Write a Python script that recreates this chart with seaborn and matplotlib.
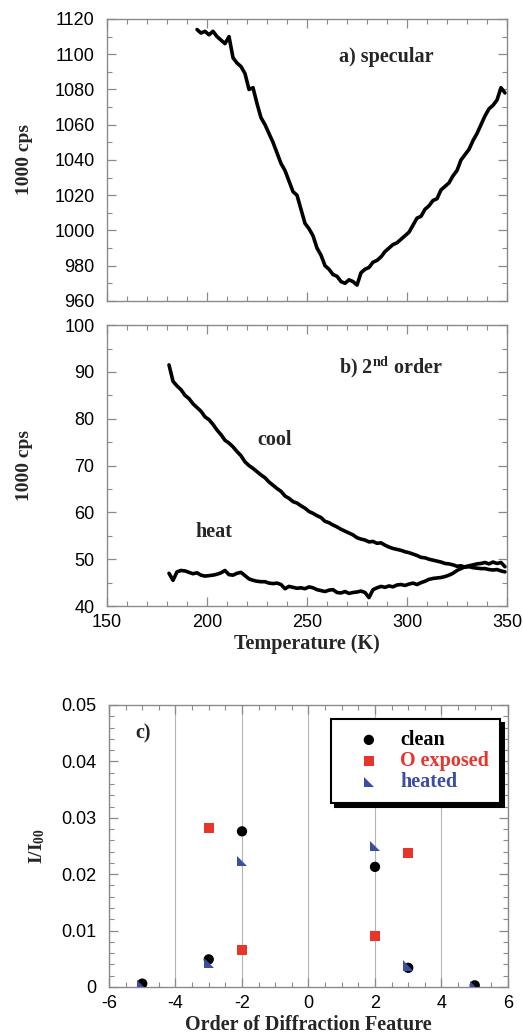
import matplotlib
matplotlib.use("Agg")
import matplotlib.pyplot as plt
import seaborn as sns
from matplotlib.ticker import MultipleLocator

# ---------------- data ----------------
temp_a = [195, 197, 199, 201, 203, 205, 207, 209, 211, 213, 215, 217, 219, 221, 223,
          225, 227, 229, 231, 233, 235, 237, 239, 241, 243, 245, 247, 249, 251, 253,
          255, 257, 259, 261, 263, 265, 267, 269, 271, 273, 275, 277, 279, 281, 283,
          285, 287, 289, 291, 293, 295, 297, 299, 301, 303, 305, 307, 309, 311, 313,
          315, 317, 319, 321, 323, 325, 327, 329, 331, 333, 335, 337, 339, 341, 343,
          345, 347, 349]
specular = [1114, 1112, 1113, 1111, 1113, 1110, 1108, 1106, 1110, 1098, 1095, 1093, 1089,
            1080, 1081, 1072, 1064, 1060, 1055, 1050, 1044, 1038, 1034, 1028, 1022, 1020,
            1012, 1004, 1001, 997, 990, 986, 980, 978, 975, 974, 971, 970, 972, 971, 969,
            976, 978, 979, 982, 983, 985, 988, 990, 992, 993, 995, 997, 999, 1003, 1007,
            1008, 1012, 1014, 1017, 1018, 1023, 1025, 1027, 1031, 1034, 1040, 1043, 1046,
            1051, 1055, 1060, 1065, 1069, 1071, 1074, 1081, 1078]

temp_b = [181, 183, 185, 187, 189, 191, 193, 195, 197, 199, 201, 203, 205, 207, 209,
          211, 213, 215, 217, 219, 221, 223, 225, 227, 229, 231, 233, 235, 237, 239,
          241, 243, 245, 247, 249, 251, 253, 255, 257, 259, 261, 263, 265, 267, 269,
          271, 273, 275, 277, 279, 281, 283, 285, 287, 289, 291, 293, 295, 297, 299,
          301, 303, 305, 307, 309, 311, 313, 315, 317, 319, 321, 323, 325, 327, 329,
          331, 333, 335, 337, 339, 341, 343, 345, 347, 349]
cool = [91.5, 88.0, 87.0, 86.2, 85.0, 84.3, 83.2, 82.4, 81.6, 80.4, 79.8, 78.8, 77.6, 76.6,
        75.4, 74.8, 74.0, 73.0, 72.1, 70.8, 70.0, 69.4, 68.7, 68.0, 67.4, 66.5, 65.8, 65.1,
        64.5, 63.5, 63.0, 62.3, 62.0, 61.4, 60.9, 60.2, 59.8, 59.3, 58.9, 58.1, 57.8, 57.3,
        56.9, 56.4, 56.0, 55.6, 55.2, 54.6, 54.3, 54.1, 53.7, 53.8, 53.4, 53.5, 53.0, 52.6,
        52.3, 52.1, 51.9, 51.6, 51.4, 51.1, 50.8, 50.4, 50.3, 50.0, 49.8, 49.6, 49.4, 49.1,
        49.0, 48.8, 48.5, 48.6, 48.3, 48.4, 48.2, 48.1, 48.0, 48.0, 47.8, 47.7, 47.8, 47.5,
        47.3]
heat = [47.0, 45.5, 47.3, 47.6, 47.5, 47.2, 46.9, 47.1, 46.6, 46.4, 46.5, 46.6, 46.8, 47.1,
        47.6, 46.7, 46.6, 47.0, 47.2, 46.5, 45.8, 45.5, 45.3, 45.2, 45.2, 44.9, 44.8, 44.9,
        44.6, 43.7, 44.2, 44.0, 43.8, 43.9, 43.7, 44.1, 43.9, 43.5, 43.3, 43.1, 43.4, 43.5,
        42.9, 42.8, 43.1, 42.7, 42.9, 43.0, 43.2, 42.9, 41.8, 43.5, 43.9, 44.2, 44.0, 44.3,
        44.1, 44.5, 44.6, 44.4, 44.7, 44.9, 44.6, 45.0, 45.3, 45.7, 45.9, 46.0, 46.1, 46.3,
        46.6, 47.0, 47.6, 48.0, 48.4, 48.6, 48.8, 49.0, 49.1, 49.3, 49.0, 49.4, 49.1, 49.3,
        48.4]

order_clean = [-5, -3, -2, 2, 3, 5]
clean = [0.0006, 0.0049, 0.0276, 0.0213, 0.0034, 0.0003]
order_oexp = [-3, -2, 2, 3]
o_exposed = [0.0282, 0.0066, 0.0091, 0.0237]
order_heated = [-5, -3, -2, 2, 3, 5]
heated = [0.0004, 0.0043, 0.0224, 0.0250, 0.0038, 0.0001]

legend_labels = ["clean", "O exposed", "heated"]

# ---------------- style ----------------
sns.set_style("ticks")
plt.rcParams["font.family"] = ["Liberation Sans", "DejaVu Sans"]
plt.rcParams["axes.unicode_minus"] = False
plt.rcParams["mathtext.fontset"] = "custom"
plt.rcParams["mathtext.rm"] = "Liberation Serif:bold"
plt.rcParams["mathtext.it"] = "Liberation Serif:bold"
plt.rcParams["mathtext.bf"] = "Liberation Serif:bold"

SERIF = ["Liberation Serif", "DejaVu Serif"]
RED = "#e8352b"
BLUE = "#3a4ea3"
SPINE = "#8a8a8a"

fig = plt.figure(figsize=(5.23, 10.36), dpi=100)
ax_a = fig.add_axes([0.2046, 0.7095, 0.7648, 0.2722])
ax_b = fig.add_axes([0.2046, 0.4150, 0.7648, 0.2712])
ax_c = fig.add_axes([0.2084, 0.0473, 0.7629, 0.2722])


def style_axes(ax):
    for s in ax.spines.values():
        s.set_color(SPINE)
        s.set_linewidth(1.0)
    ax.tick_params(which="both", direction="in", top=True, right=True,
                   color=SPINE, labelsize=13, labelcolor="black")
    ax.tick_params(which="major", length=6.5, width=0.9)
    ax.tick_params(which="minor", length=3.5, width=0.8)
    ax.tick_params(axis="y", which="both", pad=9)
    ax.tick_params(axis="x", which="both", pad=5.5)


# ---- panel a ----
sns.lineplot(x=temp_a, y=specular, ax=ax_a, color="black", lw=2.6,
             estimator=None, sort=False)
ax_a.set_xlim(150, 350)
ax_a.set_ylim(960, 1120)
ax_a.xaxis.set_major_locator(MultipleLocator(50))
ax_a.xaxis.set_minor_locator(MultipleLocator(10))
ax_a.yaxis.set_major_locator(MultipleLocator(20))
ax_a.yaxis.set_minor_locator(MultipleLocator(10))
ax_a.set_xticklabels([])
ax_a.set_xlabel("")
style_axes(ax_a)
ax_a.set_ylabel("1000 cps", family=SERIF, fontweight="bold", fontsize=14)
ax_a.yaxis.set_label_coords(-0.185, 0.5)
ax_a.text(266, 1098.3, "a) specular", family=SERIF, fontweight="bold",
          fontsize=14.5, va="center", ha="left")

# ---- panel b ----
sns.lineplot(x=temp_b, y=cool, ax=ax_b, color="black", lw=2.6,
             estimator=None, sort=False)
sns.lineplot(x=temp_b, y=heat, ax=ax_b, color="black", lw=2.6,
             estimator=None, sort=False)
ax_b.set_xlim(150, 350)
ax_b.set_ylim(40, 100)
ax_b.xaxis.set_major_locator(MultipleLocator(50))
ax_b.xaxis.set_minor_locator(MultipleLocator(10))
ax_b.yaxis.set_major_locator(MultipleLocator(10))
ax_b.yaxis.set_minor_locator(MultipleLocator(5))
style_axes(ax_b)
ax_b.set_ylabel("1000 cps", family=SERIF, fontweight="bold", fontsize=14)
ax_b.yaxis.set_label_coords(-0.185, 0.5)
ax_b.set_xlabel("Temperature (K)", family=SERIF, fontweight="bold", fontsize=14.5)
ax_b.xaxis.set_label_coords(0.5, -0.098)
ax_b.text(266, 91.1, r"b) 2$^{\mathrm{nd}}$ order", family=SERIF, fontweight="bold",
          fontsize=14.5, va="center", ha="left")
ax_b.text(225, 75.4, "cool", family=SERIF, fontweight="bold", fontsize=14.5,
          va="center", ha="left")
ax_b.text(194, 55.9, "heat", family=SERIF, fontweight="bold", fontsize=14.5,
          va="center", ha="left")

# ---- panel c ----
tri = [(-1, 1), (-1, -1), (1, -1)]
sns.scatterplot(x=order_clean, y=clean, ax=ax_c, color="black", marker="o", s=55,
                edgecolor="none", label=legend_labels[0], zorder=3)
sns.scatterplot(x=order_oexp, y=o_exposed, ax=ax_c, color=RED, marker="s", s=55,
                edgecolor="none", label=legend_labels[1], zorder=3)
sns.scatterplot(x=order_heated, y=heated, ax=ax_c, color=BLUE, marker=tri, s=55,
                edgecolor="none", label=legend_labels[2], zorder=4)
ax_c.set_xlim(-6, 6)
ax_c.set_ylim(0, 0.05)
ax_c.xaxis.set_major_locator(MultipleLocator(2))
ax_c.xaxis.set_minor_locator(MultipleLocator(0.5))
ax_c.yaxis.set_major_locator(MultipleLocator(0.01))
ax_c.yaxis.set_minor_locator(MultipleLocator(0.002))
ax_c.set_yticks([0, 0.01, 0.02, 0.03, 0.04, 0.05])
ax_c.set_yticklabels(["0", "0.01", "0.02", "0.03", "0.04", "0.05"])
ax_c.grid(axis="x", which="major", color="#b5b5b5", lw=0.8)
ax_c.set_axisbelow(True)
style_axes(ax_c)
ax_c.set_ylabel(r"I/I$_{\mathrm{00}}$", family=SERIF, fontweight="bold", fontsize=14)
ax_c.yaxis.set_label_coords(-0.155, 0.5)
ax_c.set_xlabel("Order of Diffraction Feature", family=SERIF, fontweight="bold",
                fontsize=14.5)
ax_c.xaxis.set_label_coords(0.5, -0.100)
ax_c.text(-5.22, 0.045, "c)", family=SERIF, fontweight="bold", fontsize=14.5,
          va="center", ha="left")

leg = ax_c.legend(loc="upper right", bbox_to_anchor=(0.98, 0.95), frameon=True,
                  fancybox=False, shadow={"color": "black", "alpha": 1, "ox": 3, "oy": -3},
                  prop={"family": SERIF, "weight": "bold", "size": 14.5},
                  handletextpad=0.2, borderpad=0.55, labelspacing=0.05,
                  handlelength=2.7, borderaxespad=0.0, framealpha=1)
leg.get_frame().set_edgecolor("black")
leg.get_frame().set_linewidth(1.5)
for t, c in zip(leg.get_texts(), ["black", RED, BLUE]):
    t.set_color(c)

fig.savefig("out.png", dpi=100)
